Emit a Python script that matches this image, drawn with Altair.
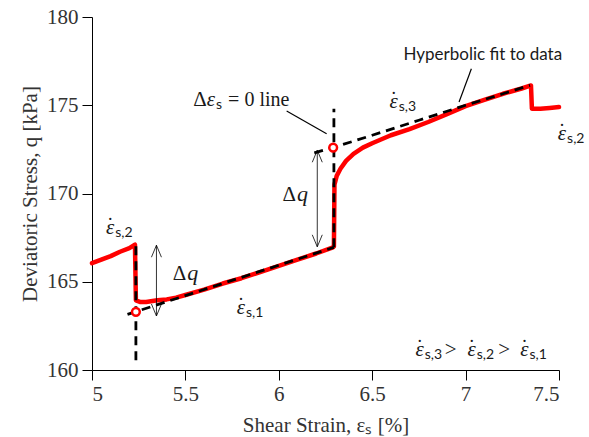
import altair as alt
import pandas as pd

# ---------------- data ----------------
strain = [5.00, 5.05, 5.10, 5.15, 5.20, 5.23, 5.235, 5.26, 5.29, 5.35, 5.40, 5.45, 5.50, 5.60,
          5.70, 5.80, 5.90, 6.00, 6.10, 6.20, 6.29, 6.295, 6.298, 6.31, 6.33, 6.36, 6.40, 6.45,
          6.50, 6.60, 6.70, 6.80, 6.90, 7.00, 7.10, 7.20, 7.30, 7.35, 7.355, 7.40, 7.45, 7.50]
stress = [166.05, 166.25, 166.45, 166.70, 166.90, 167.10, 163.95, 163.85, 163.85, 163.95, 164.00,
          164.10, 164.25, 164.55, 164.90, 165.20, 165.55, 165.90, 166.25, 166.60, 166.95, 167.00,
          170.50, 171.00, 171.40, 171.85, 172.25, 172.60, 172.85, 173.30, 173.65, 174.05, 174.50,
          174.95, 175.30, 175.65, 175.95, 176.12, 174.80, 174.80, 174.85, 174.90]

# linear fit (rate 1) and hyperbolic fit (rate 3)
fit_seg = ["lin", "lin", "hyp", "hyp", "hyp", "hyp", "hyp", "hyp", "hyp"]
fit_x = [5.19, 6.295, 6.19, 6.29, 6.50, 6.75, 7.00, 7.20, 7.345]
fit_y = [163.15, 166.95, 172.30, 172.60, 173.30, 174.15, 175.00, 175.65, 176.13]

# vertical "delta strain = 0" lines
vline_x = [5.235, 6.295]
vline_y0 = [160.55, 166.95]
vline_y1 = [167.10, 174.80]

# open circles (fit values at the step)
pt_x = [5.235, 6.291]
pt_y = [163.30, 172.60]

# delta-q double arrows
arr_x = [5.345, 6.206]
arr_lo = [163.06, 166.98]
arr_hi = [167.07, 172.45]

# leader lines
lead_x = [7.031, 6.042]
lead_y = [177.07, 174.67]
lead_x2 = [6.965, 6.256]
lead_y2 = [175.18, 173.39]

# strain-rate labels
rate_x = [5.119, 5.819, 6.637, 7.538, 6.776, 7.054, 7.337]
rate_y = [168.05, 163.51, 175.18, 173.37, 161.13, 161.13, 161.13]
rate_sub = ["s,2", "s,1", "s,3", "s,2", "s,3", "s,2", "s,1"]
gt_x = [6.920, 7.206]
gt_y = [161.13, 161.13]

dq_x = [5.504, 6.092]
dq_y = [165.44, 169.92]

de_x = 5.659
de_y = 175.30
de_delta_x = 5.615

hyp_label = "Hyperbolic fit to data"
hyp_x = 7.092
hyp_y = 177.85

x_ticks = [5, 5.5, 6, 6.5, 7, 7.5]
y_ticks = [160, 165, 170, 175, 180]

# ---------------- chart ----------------
W, H = 467, 353
SERIF = "Liberation Serif"
SANS = "Lato"
TXT = "#1a1a1a"

x_scale = alt.Scale(domain=[5, 7.5], nice=False, zero=False)
y_scale = alt.Scale(domain=[160, 180], nice=False, zero=False)

x_axis = alt.Axis(values=x_ticks, format="~g", title="Shear Strain, εₛ [%]",
                  tickSize=10, labelPadding=3, grid=False,
                  titleX=W / 2, titleY=55, titleBaseline="middle")
y_axis = alt.Axis(values=y_ticks, format="~g", title="Deviatoric Stress, q [kPa]",
                  tickSize=10, labelPadding=4, grid=False,
                  titleX=-62, titleY=H / 2, titleBaseline="middle", titleAngle=270)


def X():
    return alt.X("x:Q", scale=x_scale, axis=x_axis)


def Y():
    return alt.Y("y:Q", scale=y_scale, axis=y_axis)


df_red = pd.DataFrame({"x": strain, "y": stress, "i": range(len(strain))})
df_fit = pd.DataFrame({"x": fit_x, "y": fit_y, "seg": fit_seg, "i": range(len(fit_x))})
df_v = pd.DataFrame({"x": vline_x, "y": vline_y0, "y2": vline_y1})
df_pt = pd.DataFrame({"x": pt_x, "y": pt_y})
df_arr = pd.DataFrame({"x": arr_x, "y": arr_lo, "y2": arr_hi})
df_up = pd.DataFrame({"x": arr_x, "y": arr_hi})
df_dn = pd.DataFrame({"x": arr_x, "y": arr_lo})
df_lead = pd.DataFrame({"x": lead_x, "y": lead_y, "x2": lead_x2, "y2": lead_y2})
df_eps = pd.DataFrame({"x": rate_x + [de_x], "y": rate_y + [de_y],
                       "t": ["\u03b5"] * (len(rate_x) + 1)})
df_dot = pd.DataFrame({"x": rate_x, "y": rate_y, "t": ["."] * len(rate_x)})
df_sub = pd.DataFrame({"x": rate_x + [de_x], "y": rate_y + [de_y], "t": rate_sub + ["s"]})
df_gt = pd.DataFrame({"x": gt_x, "y": gt_y, "t": [">"] * len(gt_x)})
df_delta = pd.DataFrame({"x": dq_x + [de_delta_x], "y": dq_y + [de_y], "t": ["Δ"] * 3})
df_q = pd.DataFrame({"x": dq_x, "y": dq_y, "t": ["q"] * len(dq_x)})
df_rest = pd.DataFrame({"x": [de_x], "y": [de_y], "t": ["= 0 line"]})
df_hyp = pd.DataFrame({"x": [hyp_x], "y": [hyp_y], "t": [hyp_label]})

DASH = [9, 6]

red = alt.Chart(df_red).mark_line(color="#ff0000", strokeWidth=4.5, strokeJoin="round",
                                  strokeCap="round").encode(x=X(), y=Y(), order="i:Q")
fits = alt.Chart(df_fit).mark_line(color="black", strokeWidth=2.8, strokeDash=DASH).encode(
    x=X(), y=Y(), detail="seg:N", order="i:Q")
vlines = alt.Chart(df_v).mark_rule(color="black", strokeWidth=2.8, strokeDash=DASH).encode(
    x=X(), y=Y(), y2="y2:Q")
shafts = alt.Chart(df_arr).mark_rule(color="black", strokeWidth=0.8).encode(
    x=X(), y=Y(), y2="y2:Q")
heads_up = alt.Chart(df_up).mark_point(shape="M -1 2.4 L 0 0 L 1 2.4", size=100, filled=False,
                                       color="black", strokeWidth=0.8, opacity=1).encode(x=X(), y=Y())
heads_dn = alt.Chart(df_dn).mark_point(shape="M -1 -2.4 L 0 0 L 1 -2.4", size=100, filled=False,
                                       color="black", strokeWidth=0.8, opacity=1).encode(x=X(), y=Y())
leaders = alt.Chart(df_lead).mark_rule(color="black", strokeWidth=1.2).encode(
    x=X(), y=Y(), x2="x2:Q", y2="y2:Q")
circles = alt.Chart(df_pt).mark_point(shape="circle", filled=True, fill="white", stroke="#ff0000",
                                      strokeWidth=2.5, size=60, opacity=1).encode(x=X(), y=Y())

eps = alt.Chart(df_eps).mark_text(font=SERIF, fontStyle="italic", fontSize=21, align="right",
                                  baseline="middle", color=TXT).encode(x=X(), y=Y(), text="t:N")
dots = alt.Chart(df_dot).mark_text(font=SERIF, fontSize=18, align="center", baseline="alphabetic",
                                   dx=-4, dy=-8, color=TXT).encode(x=X(), y=Y(), text="t:N")
subs = alt.Chart(df_sub).mark_text(font=SANS, fontSize=14, align="left", baseline="middle",
                                   dx=1, dy=5, color=TXT).encode(x=X(), y=Y(), text="t:N")
gts = alt.Chart(df_gt).mark_text(font=SERIF, fontSize=21, align="center", baseline="middle",
                                 color=TXT).encode(x=X(), y=Y(), text="t:N")
deltas = alt.Chart(df_delta).mark_text(font=SERIF, fontSize=21, align="right", baseline="middle",
                                       color=TXT).encode(x=X(), y=Y(), text="t:N")
qs = alt.Chart(df_q).mark_text(font=SERIF, fontStyle="italic", fontSize=22, align="left",
                               baseline="middle", dx=1, dy=-1, color=TXT).encode(x=X(), y=Y(), text="t:N")
rest = alt.Chart(df_rest).mark_text(font=SERIF, fontSize=20, align="left", baseline="middle",
                                    dx=13, color=TXT).encode(x=X(), y=Y(), text="t:N")
hyp = alt.Chart(df_hyp).mark_text(font=SANS, fontSize=17, align="center", baseline="middle",
                                  color=TXT).encode(x=X(), y=Y(), text="t:N")

chart = alt.layer(
    red, fits, vlines, shafts, heads_up, heads_dn, leaders, circles,
    eps, dots, subs, gts, deltas, qs, rest, hyp
).properties(
    width=W, height=H,
    padding={"left": 92, "top": 17, "right": 30, "bottom": 67},
    autosize=alt.AutoSizeParams(type="none"),
    background="white",
).configure_view(stroke=None).configure_axis(
    domainColor="black", tickColor="black", domainWidth=1, tickWidth=1,
    labelFont=SERIF, labelFontSize=21, labelColor="#333333",
    titleFont=SERIF, titleFontSize=21, titleFontWeight="normal", titleColor="#333333",
)

chart.save("out.html", embed_options={"renderer": "svg", "actions": False})
